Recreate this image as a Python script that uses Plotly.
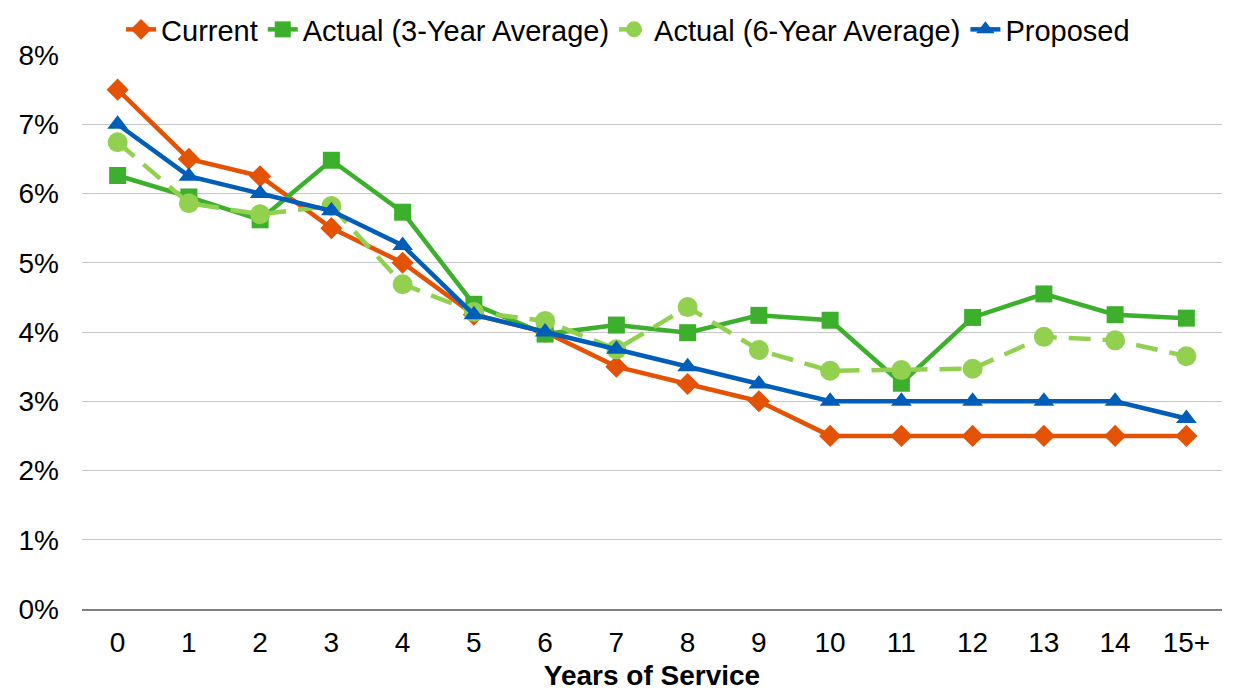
import plotly.graph_objects as go

years = ["0", "1", "2", "3", "4", "5", "6", "7", "8", "9", "10", "11", "12", "13", "14", "15+"]
current = [7.5, 6.5, 6.25, 5.5, 5.0, 4.25, 4.0, 3.5, 3.25, 3.0, 2.5, 2.5, 2.5, 2.5, 2.5, 2.5]
actual_3yr = [6.26, 5.95, 5.62, 6.48, 5.73, 4.40, 3.97, 4.10, 3.99, 4.24, 4.17, 3.26, 4.21, 4.55, 4.25, 4.20]
actual_6yr = [6.74, 5.86, 5.70, 5.82, 4.69, 4.29, 4.16, 3.75, 4.36, 3.74, 3.44, 3.45, 3.47, 3.93, 3.88, 3.65]
proposed = [7.0, 6.25, 6.0, 5.75, 5.25, 4.25, 4.0, 3.75, 3.5, 3.25, 3.0, 3.0, 3.0, 3.0, 3.0, 2.75]

fig = go.Figure()
fig.add_trace(go.Scatter(x=years, y=current, name="Current", mode="lines+markers",
                         line=dict(color="#E35205", width=4.5),
                         marker=dict(symbol="diamond", size=17, color="#E35205")))
fig.add_trace(go.Scatter(x=years, y=actual_3yr, name="Actual (3-Year Average)", mode="lines+markers",
                         line=dict(color="#3CAF2C", width=4.5),
                         marker=dict(symbol="square", size=17, color="#3CAF2C")))
fig.add_trace(go.Scatter(x=years, y=actual_6yr, name="Actual (6-Year Average)", mode="lines+markers",
                         line=dict(color="#92D050", width=4.5, dash="22px,12px"),
                         marker=dict(symbol="circle", size=20, color="#92D050")))
fig.add_trace(go.Scatter(x=years, y=proposed, name="Proposed", mode="lines+markers",
                         line=dict(color="#005EB8", width=4.5),
                         marker=dict(symbol="triangle-up", size=18, color="#005EB8")))

fig.update_layout(
    width=1226, height=683,
    paper_bgcolor="white", plot_bgcolor="white",
    margin=dict(l=74, r=12, t=47, b=82, autoexpand=False),
    font=dict(family="Liberation Sans, Arial, sans-serif", size=28, color="#000000"),
    legend=dict(orientation="h", x=0.479, xanchor="center", y=1.046, yanchor="middle",
                font=dict(size=29), tracegroupgap=0, bgcolor="rgba(0,0,0,0)"),
    xaxis=dict(type="category", range=[-0.5, 15.5], showgrid=False, showline=True,
               linecolor="#808080", linewidth=1.5,
               ticks="", ticklabelstandoff=8, tickfont=dict(size=28),
               title=dict(text="<b>Years of Service</b>", font=dict(size=28), standoff=19)),
    yaxis=dict(range=[0, 8], dtick=1, ticksuffix="%", showgrid=True, gridcolor="#C8C8C8",
               gridwidth=1, zeroline=False, showline=False, tickfont=dict(size=28), ticks="",
               ticklabelstandoff=22),
)

fig.write_html("out.html")
